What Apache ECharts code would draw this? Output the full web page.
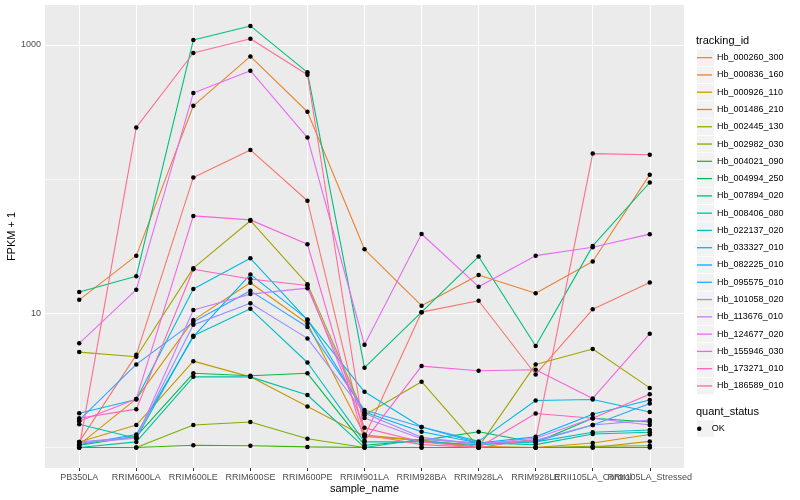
<!DOCTYPE html>
<html><head><meta charset="utf-8">
<script src="https://cdn.jsdelivr.net/npm/echarts@6/dist/echarts.min.js"></script>
<style>html,body{margin:0;padding:0;background:#fff}#c{width:800px;height:500px}</style>
</head><body><div id="c"></div>
<script>
const samples = ['PB350LA','RRIM600LA','RRIM600LE','RRIM600SE','RRIM600PE','RRIM901LA','RRIM928BA','RRIM928LA','RRIM928LE','RRII105LA_Control','RRII105LA_Stressed'];
const trackingIds = ['Hb_000260_300','Hb_000836_160','Hb_000926_110','Hb_001486_210','Hb_002445_130','Hb_002982_030','Hb_004021_090','Hb_004994_250','Hb_007894_020','Hb_008406_080','Hb_022137_020','Hb_033327_010','Hb_082225_010','Hb_095575_010','Hb_101058_020','Hb_113676_010','Hb_124677_020','Hb_155946_030','Hb_173271_010','Hb_186589_010'];
const colors = ['#F8766D','#EA8331','#D89000','#C09B00','#A3A500','#7CAE00','#39B600','#00BB4E','#00BF7D','#00C1A3','#00BFC4','#00BAE0','#00B0F6','#35A2FF','#9590FF','#C77CFF','#E76BF3','#FA62DB','#FF62BC','#FF6C91'];
const yTicks = [10, 1000];
const yMinorTicks = [1, 100];

// FPKM + 1 per sample
const Hb_000260_300 = [1.1, 4.9, 103, 165, 69, 1.2, 10.2, 12.4, 3.5, 10.7, 17.0];
const Hb_000836_160 = [12.6, 26.9, 352, 822, 318, 30, 11.4, 19.3, 14.1, 24.3, 108];
const Hb_000926_110 = [1.05, 2.3, 8.9, 16.9, 8.4, 1.24, 1.13, 1.02, 1.0, 1.08, 1.25];
const Hb_001486_210 = [1.1, 1.47, 4.4, 3.36, 2.02, 1.21, 1.13, 1.0, 1.0, 1.0, 1.11];
const Hb_002445_130 = [5.14, 4.75, 21.7, 49, 16.5, 1.74, 3.09, 1.01, 4.16, 5.42, 2.78];
const Hb_002982_030 = [1.0, 1.0, 1.47, 1.55, 1.16, 1.0, 1.0, 1.0, 1.0, 1.02, 1.03];
const Hb_004021_090 = [1.0, 1.0, 1.04, 1.03, 1.01, 1.0, 1.0, 1.0, 1.0, 1.0, 1.0];
const Hb_004994_250 = [1.04, 1.21, 3.57, 3.42, 3.57, 1.04, 1.13, 1.31, 1.09, 1.65, 1.55];
const Hb_007894_020 = [14.4, 18.9, 1089, 1387, 625, 3.93, 10.2, 26.5, 5.7, 31.8, 94.4];
const Hb_008406_080 = [1.0, 1.1, 3.36, 3.36, 2.46, 1.0, 1.15, 1.08, 1.05, 1.26, 1.3];
const Hb_022137_020 = [1.49, 1.17, 6.8, 10.8, 4.3, 1.1, 1.1, 1.05, 1.1, 1.3, 1.35];
const Hb_033327_010 = [1.8, 2.28, 15.2, 25.7, 8.9, 2.6, 1.42, 1.11, 2.24, 2.28, 1.84];
const Hb_082225_010 = [1.05, 1.25, 6.7, 19.5, 9.0, 1.84, 1.31, 1.08, 1.2, 1.77, 2.26];
const Hb_095575_010 = [1.6, 4.16, 8.6, 14.7, 7.9, 1.9, 1.42, 1.08, 1.11, 1.47, 2.13];
const Hb_101058_020 = [1.1, 1.19, 8.2, 11.9, 6.5, 1.8, 1.19, 1.06, 1.13, 1.47, 1.6];
const Hb_113676_010 = [1.08, 1.17, 10.6, 13.9, 15.4, 1.66, 1.16, 1.06, 1.17, 1.65, 1.47];
const Hb_124677_020 = [5.97, 15, 438, 643, 204, 5.83, 39, 15.8, 26.9, 31.1, 38.9];
const Hb_155946_030 = [1.57, 2.3, 53.2, 49.7, 32.7, 1.12, 4.04, 3.73, 3.8, 2.32, 7.05];
const Hb_173271_010 = [1.65, 1.93, 21.3, 18, 16.1, 1.4, 1.1, 1.0, 1.79, 1.65, 2.49];
const Hb_186589_010 = [1.0, 243, 871, 1114, 600, 1.25, 1.05, 1.0, 1.15, 155, 152];

const seriesValues = [Hb_000260_300, Hb_000836_160, Hb_000926_110, Hb_001486_210, Hb_002445_130, Hb_002982_030, Hb_004021_090, Hb_004994_250, Hb_007894_020, Hb_008406_080, Hb_022137_020, Hb_033327_010, Hb_082225_010, Hb_095575_010, Hb_101058_020, Hb_113676_010, Hb_124677_020, Hb_155946_030, Hb_173271_010, Hb_186589_010];

const font = '"Liberation Sans", Arial, Helvetica, sans-serif';
const chart = echarts.init(document.getElementById('c'));

const gridLines = [];
samples.forEach((s, i) => gridLines.push({xAxis: i, lineStyle: {width: 1.1}}));
yTicks.forEach(v => gridLines.push({yAxis: v, lineStyle: {width: 1.1}}));
yMinorTicks.forEach(v => gridLines.push({yAxis: v, lineStyle: {width: 0.55}}));

const series = [{
  name: '_grid', type: 'line', data: [], z: 1, silent: true,
  markLine: {silent: true, symbol: ['none', 'none'], label: {show: false}, animation: false,
    lineStyle: {color: '#fff', type: 'solid', width: 1.1}, emphasis: {disabled: true}, data: gridLines}
}];
trackingIds.forEach((id, k) => series.push({
  name: id, type: 'line', z: 10, symbol: 'none', showSymbol: false, animation: false,
  data: seriesValues[k].map((v, i) => [i, v]),
  lineStyle: {width: 1.1, color: colors[k]}, itemStyle: {color: colors[k]}
}));
const okPoints = [];
seriesValues.forEach(arr => arr.forEach((v, i) => okPoints.push([i, v])));
series.push({name: 'OK', type: 'scatter', z: 12, symbol: 'circle', symbolSize: 4.5, animation: false,
  itemStyle: {color: '#000', borderWidth: 0, opacity: 1}, data: okPoints});

const keyBoxes = [];
trackingIds.forEach((id, k) => keyBoxes.push({type: 'rect', z: 0, silent: true,
  shape: {x: 697, y: 49 + k * 17.28 + 0.4, width: 17, height: 16.5}, style: {fill: '#F2F2F2'}}));
keyBoxes.push({type: 'rect', z: 0, silent: true, shape: {x: 697, y: 420.4, width: 17, height: 16.5}, style: {fill: '#F2F2F2'}});

const evenIdx = samples.map((s, i) => i).filter(i => i % 2 === 0);
const oddIdx = samples.map((s, i) => i).filter(i => i % 2 === 1);
const xLabelBase = {formatter: v => samples[Math.round(v)], fontSize: 9, color: '#4D4D4D', margin: 5.5, fontFamily: font, hideOverlap: false};

chart.setOption({
  animation: false,
  backgroundColor: '#fff',
  grid: {left: 45, top: 5, right: 116, bottom: 32, show: true, backgroundColor: '#EBEBEB', borderWidth: 0, containLabel: false, outerBoundsMode: 'none'},
  title: [
    {text: 'tracking_id', left: 696, top: 35, padding: 0, textStyle: {fontSize: 11, fontWeight: 'normal', color: '#000', fontFamily: font}},
    {text: 'quant_status', left: 696, top: 406, padding: 0, textStyle: {fontSize: 11, fontWeight: 'normal', color: '#000', fontFamily: font}}
  ],
  legend: [
    {data: trackingIds, orient: 'vertical', left: 697, top: 49, padding: 0, itemGap: 0, itemWidth: 15, itemHeight: 1.3,
      icon: 'rect', selectedMode: false, textStyle: {fontSize: 9, color: '#000', lineHeight: 17.28, fontFamily: font}},
    {data: ['OK'], orient: 'vertical', left: 697, top: 420, padding: 0, itemGap: 0, itemWidth: 15, itemHeight: 4.5,
      icon: 'circle', selectedMode: false, textStyle: {fontSize: 9, color: '#000', lineHeight: 17.28, fontFamily: font}}
  ],
  xAxis: [{
    type: 'value', min: -0.6, max: 10.6, position: 'bottom',
    name: 'sample_name', nameLocation: 'middle', nameGap: 21, nameMoveOverlap: false,
    nameTextStyle: {fontSize: 11, color: '#000', fontFamily: font, verticalAlign: 'middle'},
    axisLine: {show: false}, splitLine: {show: false},
    axisTick: {show: true, length: 3, customValues: samples.map((s, i) => i), lineStyle: {color: '#333', width: 1}},
    axisLabel: Object.assign({customValues: evenIdx}, xLabelBase)
  }, {
    type: 'value', min: -0.6, max: 10.6, position: 'bottom', offset: 0,
    axisLine: {show: false}, splitLine: {show: false}, axisTick: {show: false},
    axisLabel: Object.assign({customValues: oddIdx}, xLabelBase)
  }],
  yAxis: {
    type: 'log', logBase: 10, min: 0.703, max: 1986,
    name: 'FPKM + 1', nameLocation: 'middle', nameGap: 33, nameMoveOverlap: false,
    nameTextStyle: {fontSize: 11, color: '#000', fontFamily: font, verticalAlign: 'middle'},
    axisLine: {show: false}, splitLine: {show: false}, minorSplitLine: {show: false},
    axisTick: {show: true, length: 3, customValues: yTicks, lineStyle: {color: '#333', width: 1}},
    axisLabel: {customValues: yTicks, formatter: v => String(Math.round(v)), fontSize: 9, color: '#4D4D4D', margin: 4, fontFamily: font}
  },
  graphic: keyBoxes,
  series: series
});
</script></body></html>
